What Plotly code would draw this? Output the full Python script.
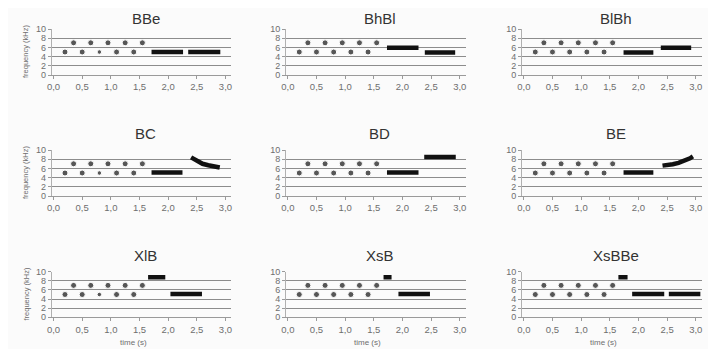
import plotly.graph_objects as go
from plotly.subplots import make_subplots

W, H = 716, 349
OFF = 8  # page body margin offset of the figure

titles = ["BBe", "BhBl", "BlBh", "BC", "BD", "BE", "XlB", "XsB", "XsBBe"]

# note dots (time s, frequency kHz), shared by all panels
dot_t = [0.2, 0.35, 0.5, 0.65, 0.8, 0.95, 1.1, 1.25, 1.4, 1.55]
dot_f = [5, 7, 5, 7, 5, 7, 5, 7, 5, 7]

# flat / sweeping segments per panel (None separates segments)
BBe_t = [1.71, 2.26, None, 2.35, 2.91]
BBe_f = [5, 5, None, 5, 5]
BhBl_t = [1.73, 2.28, None, 2.39, 2.92]
BhBl_f = [5.9, 5.9, None, 4.9, 4.9]
BlBh_t = [1.74, 2.26, None, 2.39, 2.92]
BlBh_f = [4.9, 4.9, None, 5.9, 5.9]
BC_t = [1.71, 2.25, None, 2.4, 2.45, 2.5, 2.55, 2.6, 2.7, 2.8, 2.9]
BC_f = [5.1, 5.1, None, 8.4, 8.0, 7.6, 7.3, 7.0, 6.7, 6.4, 6.2]
BD_t = [1.73, 2.28, None, 2.38, 2.93]
BD_f = [5.1, 5.1, None, 8.5, 8.5]
BE_t = [1.74, 2.26, None, 2.42, 2.5, 2.6, 2.7, 2.8, 2.9, 2.95]
BE_f = [5.1, 5.1, None, 6.6, 6.7, 6.9, 7.2, 7.6, 8.2, 8.6]
XlB_t = [1.65, 1.95, None, 2.04, 2.59]
XlB_f = [8.8, 8.8, None, 5.1, 5.1]
XsB_t = [1.67, 1.81, None, 1.93, 2.48]
XsB_f = [8.8, 8.8, None, 5.1, 5.1]
XsBBe_t = [1.65, 1.81, None, 1.89, 2.45, None, 2.53, 3.08]
XsBBe_f = [8.8, 8.8, None, 5.1, 5.1, None, 5.1, 5.1]

seg_t = [BBe_t, BhBl_t, BlBh_t, BC_t, BD_t, BE_t, XlB_t, XsB_t, XsBBe_t]
seg_f = [BBe_f, BhBl_f, BlBh_f, BC_f, BD_f, BE_f, XlB_f, XsB_f, XsBBe_f]

x_ticks = [0, 0.5, 1.0, 1.5, 2.0, 2.5, 3.0]
x_ticktext = ["0,0", "0,5", "1,0", "1,5", "2,0", "2,5", "3,0"]
y_ticks = [0, 2, 4, 6, 8, 10]

col_px = [(51.8, 231.2), (286.1, 465.5), (522.1, 701.5)]
row_px = [(29, 75), (150, 196), (271.7, 317.3)]

FONT = "Liberation Sans, Arial"


def px(x):
    return (x - OFF) / W


def py(y):
    return 1 - (y - OFF) / H


fig = make_subplots(rows=3, cols=3)

for i in range(9):
    r, c = i // 3 + 1, i % 3 + 1
    sizes = [6] * len(dot_t)
    if c == 1:
        sizes[4] = 4.5
    fig.add_trace(go.Scatter(x=dot_t, y=dot_f, mode="markers",
                             marker=dict(color="#111111", size=sizes),
                             showlegend=False, cliponaxis=False), row=r, col=c)
    fig.add_trace(go.Scatter(x=seg_t[i], y=seg_f[i], mode="lines",
                             line=dict(color="#111111", width=4.5),
                             connectgaps=False, showlegend=False,
                             cliponaxis=False), row=r, col=c)

for i in range(9):
    r, c = i // 3, i % 3
    k = "" if i == 0 else str(i + 1)
    x0, x1 = col_px[c]
    y0, y1 = row_px[r]
    fig.layout["xaxis" + k].update(
        domain=[px(x0), px(x1)], range=[-0.03, 3.1], automargin=False,
        tickvals=x_ticks, ticktext=x_ticktext, showgrid=False,
        showline=True, linecolor="#9a9a9a", linewidth=1,
        ticks="outside", ticklen=3, tickcolor="#9a9a9a",
        tickfont=dict(family=FONT, size=9.5, color="#6e6e6e"),
        zeroline=False, fixedrange=True)
    fig.layout["yaxis" + k].update(
        domain=[py(y1), py(y0)], range=[0, 10], automargin=False,
        tickvals=y_ticks, showgrid=True, gridcolor="#8c8c8c", gridwidth=1,
        showline=True, linecolor="#b0b0b0", linewidth=1,
        ticks="outside", ticklen=3, tickcolor="#9a9a9a",
        tickfont=dict(family=FONT, size=9, color="#6e6e6e"),
        zeroline=False, fixedrange=True)
    if r == 0:
        ty, tanchor = 1.0, "top"
    else:
        ty, tanchor = py(y0 - 16), "middle"
    fig.add_annotation(text=titles[i], xref="paper", yref="paper",
                       x=px((x0 + x1) / 2 + 4), y=ty,
                       xanchor="center", yanchor=tanchor, showarrow=False,
                       font=dict(family=FONT, size=15, color="#333333"))

for r in range(3):
    y0, y1 = row_px[r]
    fig.add_annotation(text="frequency (kHz)", xref="paper", yref="paper",
                       x=px(26), y=py((y0 + y1) / 2), textangle=-90,
                       xanchor="center", yanchor="middle", showarrow=False,
                       font=dict(family=FONT, size=7.5, color="#6e6e6e"))

for c in range(3):
    x0, x1 = col_px[c]
    fig.add_annotation(text="time (s)", xref="paper", yref="paper",
                       x=px((x0 + x1) / 2 - 8), y=py(349),
                       xanchor="center", yanchor="bottom", showarrow=False,
                       font=dict(family=FONT, size=8, color="#6e6e6e"))

fig.update_layout(width=W, height=H, margin=dict(l=0, r=0, t=0, b=0),
                  paper_bgcolor="#fbfbfb", plot_bgcolor="rgba(0,0,0,0)")

fig.write_html("out.html")
